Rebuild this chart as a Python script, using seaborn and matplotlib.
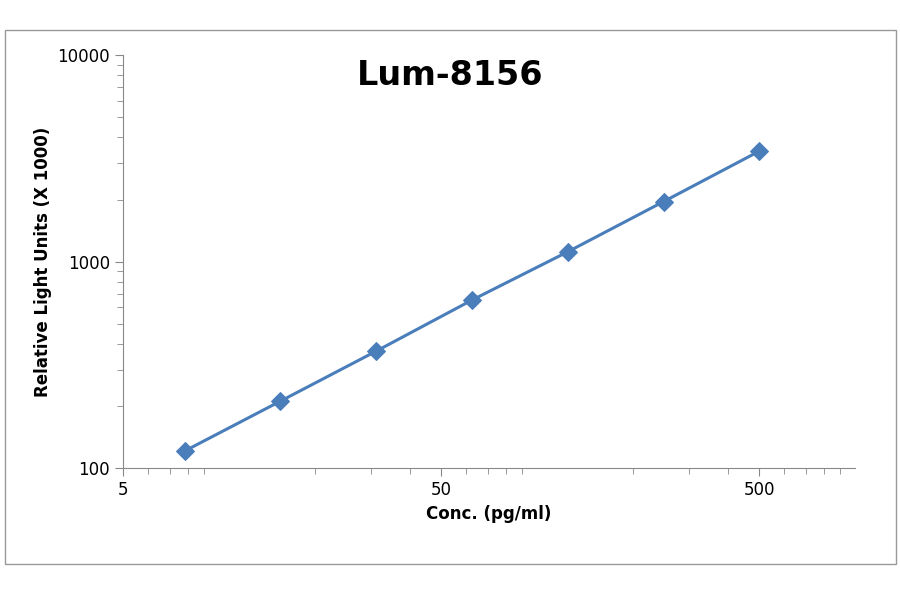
import numpy as np
import pandas as pd
import matplotlib
matplotlib.use("Agg")
import matplotlib.pyplot as plt
import seaborn as sns

conc = [7.8, 15.6, 31.25, 62.5, 125, 250, 500]
rlu = [121, 211, 369, 652, 1117, 1954, 3430]
df = pd.DataFrame({"conc": conc, "rlu": rlu})

sns.set_style("white")
plt.rcParams['font.family'] = ['DejaVu Sans']
plt.rcParams['text.color'] = 'black'
plt.rcParams['axes.labelcolor'] = 'black'
plt.rcParams['xtick.labelcolor'] = 'black'
plt.rcParams['ytick.labelcolor'] = 'black'
fig = plt.figure(figsize=(9, 5.94), dpi=100)
ax = fig.add_axes([0.137, 0.212, 0.813, 0.695])

sns.lineplot(data=df, x="conc", y="rlu", ax=ax, color="#4a7ebb", linewidth=2.2,
             marker="D", markersize=9, markeredgecolor="#4a7ebb")
ax.set_xscale("log")
ax.set_yscale("log")
ax.set_xlim(5, 1000)
ax.set_ylim(100, 10000)
ax.set_xticks([5, 50, 500])
ax.set_xticklabels(["5", "50", "500"])
ax.set_yticks([100, 1000, 10000])
ax.set_yticklabels(["100", "1000", "10000"])
ax.tick_params(which="both", direction="out", color="#888888", labelsize=12)
ax.tick_params(which="major", length=6, bottom=True, left=True)
ax.tick_params(which="minor", length=4, bottom=True, left=True)
for s in ["top", "right"]:
    ax.spines[s].set_visible(False)
for s in ["left", "bottom"]:
    ax.spines[s].set_color("#888888")
ax.set_xlabel("Conc. (pg/ml)", fontsize=12, fontweight="bold")
ax.set_ylabel("Relative Light Units (X 1000)", fontsize=12, fontweight="bold")
ax.text(0.447, 0.95, "Lum-8156", transform=ax.transAxes, ha="center", va="center",
        fontsize=24, fontweight="bold", color="black")
fig.patches.append(plt.Rectangle((0.005, 0.05), 0.99, 0.9, transform=fig.transFigure,
                                 fill=False, edgecolor="#999999", linewidth=1))
fig.savefig("out.png", dpi=100)
